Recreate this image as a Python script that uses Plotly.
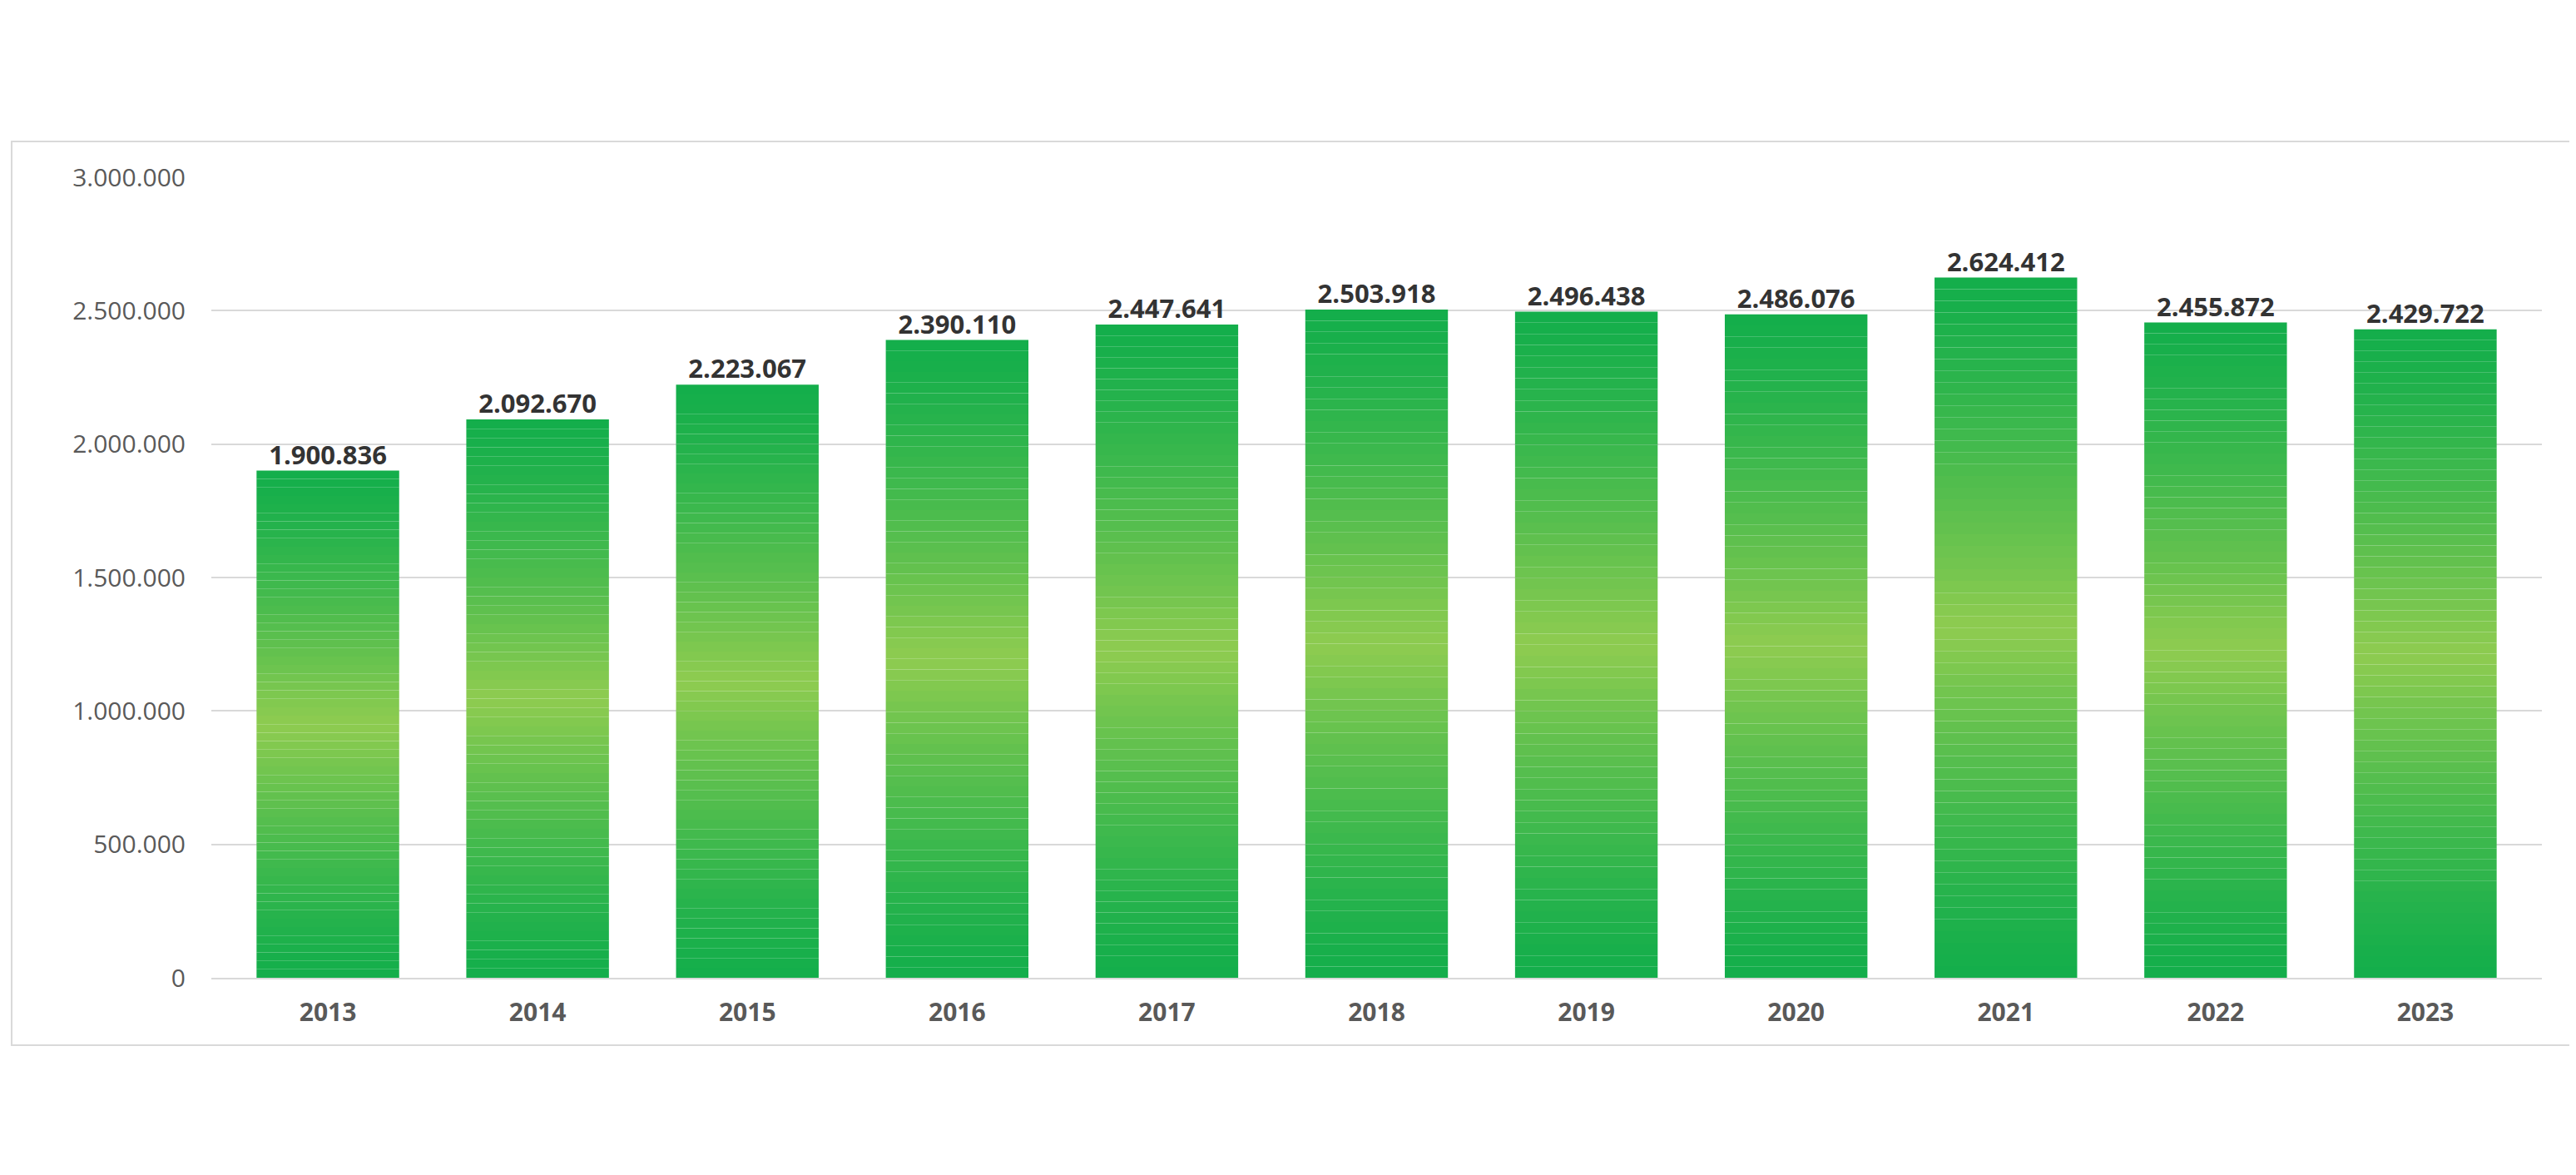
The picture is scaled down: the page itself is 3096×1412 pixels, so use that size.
import plotly.graph_objects as go

years = ["2013", "2014", "2015", "2016", "2017", "2018", "2019", "2020", "2021", "2022", "2023"]
values = [1900836, 2092670, 2223067, 2390110, 2447641, 2503918, 2496438, 2486076, 2624412, 2455872, 2429722]
labels = [f"{v:,}".replace(",", ".") for v in values]
y_ticks = [0, 500000, 1000000, 1500000, 2000000, 2500000, 3000000]
y_tick_text = [f"{v:,}".replace(",", ".") for v in y_ticks]

dark = (19, 174, 75)
light = (143, 204, 80)
n_seg = 60

fig = go.Figure()

# vertical gradient: stack thin segments, dark at bottom/top, light in the middle
for k in range(n_seg):
    mid = (k + 0.5) / n_seg
    t = max(0.0, 1 - abs(mid - 0.5) / 0.5) ** 1.3
    c = tuple(round(d + (l - d) * t) for d, l in zip(dark, light))
    fig.add_trace(go.Bar(
        x=years,
        y=[v / n_seg for v in values],
        base=[v * k / n_seg for v in values],
        marker=dict(color=f"rgb{c}", line=dict(width=0)),
        hoverinfo="skip",
        showlegend=False,
    ))

fig.add_trace(go.Scatter(
    x=years, y=values, text=labels, mode="text",
    textposition="top center",
    textfont=dict(family="Open Sans", size=31, color="#333333", weight="bold"),
    cliponaxis=False, showlegend=False,
))

fig.update_layout(
    width=3096, height=1412,
    barmode="overlay", bargap=0.32,
    paper_bgcolor="white", plot_bgcolor="white",
    margin=dict(l=246, r=49, t=205, b=245),
    shapes=[dict(type="rect", xref="paper", yref="paper",
                 x0=-0.0857, x1=1.0153, y0=-0.0842, y1=1.0447,
                 line=dict(color="#d9d9d9", width=2), fillcolor="rgba(0,0,0,0)", layer="below")],
)
fig.update_xaxes(
    tickfont=dict(family="Open Sans", size=30, color="#595959", weight="bold"),
    showline=True, linecolor="#d9d9d9", linewidth=2, ticks="", ticklabelstandoff=14,
)
fig.update_yaxes(
    range=[0, 3000000], tickvals=y_ticks, ticktext=y_tick_text,
    tickfont=dict(family="Open Sans", size=30, color="#595959"),
    gridcolor="#d9d9d9", gridwidth=2, zeroline=False, ticklabelstandoff=30,
)

fig.write_html("out.html")
